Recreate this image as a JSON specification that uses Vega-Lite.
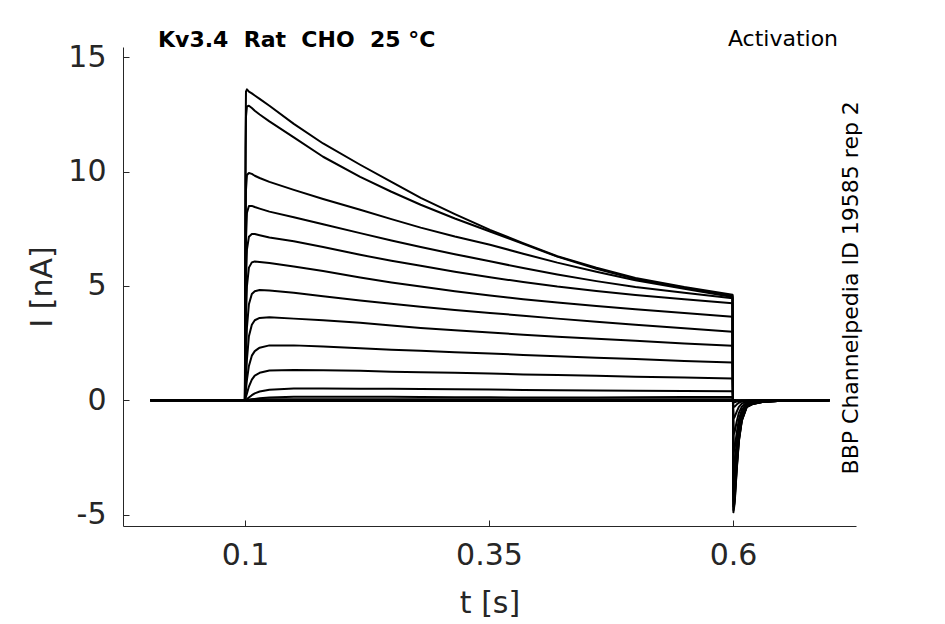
{
  "$schema": "https://vega.github.io/schema/vega-lite/v6.json",
  "autosize": "none",
  "width": 733,
  "height": 479,
  "padding": {"left": 123, "top": 47, "right": 89, "bottom": 98},
  "background": "white",
  "config": {
    "view": {"stroke": null},
    "font": "DejaVu Sans",
    "axis": {
      "grid": false,
      "domainColor": "#262626",
      "tickColor": "#262626",
      "labelColor": "#262626",
      "titleColor": "#262626",
      "labelFont": "DejaVu Sans",
      "titleFont": "DejaVu Sans",
      "labelFontSize": 30,
      "titleFontSize": 30,
      "titleFontWeight": "normal",
      "tickSize": -6,
      "domainWidth": 1,
      "tickWidth": 1
    }
  },
  "layer": [
    {
      "data": {"values": [
        {"trace":1,"t":0.003,"I":0},{"trace":1,"t":0.0999,"I":0},{"trace":1,"t":0.1005,"I":11.0},{"trace":1,"t":0.101,"I":13.5},{"trace":1,"t":0.102,"I":13.6},{"trace":1,"t":0.104,"I":13.5},{"trace":1,"t":0.107,"I":13.42},{"trace":1,"t":0.11,"I":13.33},{"trace":1,"t":0.115,"I":13.18},{"trace":1,"t":0.125,"I":12.88},{"trace":1,"t":0.15,"I":12.09},{"trace":1,"t":0.18,"I":11.23},{"trace":1,"t":0.218,"I":10.3},{"trace":1,"t":0.25,"I":9.55},{"trace":1,"t":0.28,"I":8.85},{"trace":1,"t":0.315,"I":8.14},{"trace":1,"t":0.351,"I":7.45},{"trace":1,"t":0.385,"I":6.87},{"trace":1,"t":0.42,"I":6.3},{"trace":1,"t":0.46,"I":5.8},{"trace":1,"t":0.5,"I":5.35},{"trace":1,"t":0.55,"I":4.95},{"trace":1,"t":0.5995,"I":4.62},
        {"trace":1,"t":0.6004,"I":-4.9},{"trace":1,"t":0.6017,"I":-4.5},{"trace":1,"t":0.6037,"I":-3.1},{"trace":1,"t":0.606,"I":-1.8},{"trace":1,"t":0.609,"I":-0.9},{"trace":1,"t":0.614,"I":-0.3},{"trace":1,"t":0.62,"I":-0.17},{"trace":1,"t":0.63,"I":-0.08},{"trace":1,"t":0.65,"I":-0.02},{"trace":1,"t":0.699,"I":0},

        {"trace":2,"t":0.003,"I":0},{"trace":2,"t":0.0999,"I":0},{"trace":2,"t":0.1005,"I":9.5},{"trace":2,"t":0.101,"I":12.4},{"trace":2,"t":0.102,"I":12.85},{"trace":2,"t":0.104,"I":12.88},{"trace":2,"t":0.107,"I":12.78},{"trace":2,"t":0.11,"I":12.66},{"trace":2,"t":0.115,"I":12.5},{"trace":2,"t":0.125,"I":12.2},{"trace":2,"t":0.15,"I":11.5},{"trace":2,"t":0.18,"I":10.65},{"trace":2,"t":0.218,"I":9.77},{"trace":2,"t":0.25,"I":9.12},{"trace":2,"t":0.28,"I":8.55},{"trace":2,"t":0.315,"I":7.95},{"trace":2,"t":0.351,"I":7.38},{"trace":2,"t":0.385,"I":6.84},{"trace":2,"t":0.42,"I":6.28},{"trace":2,"t":0.46,"I":5.75},{"trace":2,"t":0.5,"I":5.3},{"trace":2,"t":0.55,"I":4.92},{"trace":2,"t":0.5995,"I":4.57},
        {"trace":2,"t":0.6004,"I":-4.8},{"trace":2,"t":0.6017,"I":-4.4},{"trace":2,"t":0.6037,"I":-3.04},{"trace":2,"t":0.606,"I":-1.76},{"trace":2,"t":0.609,"I":-0.88},{"trace":2,"t":0.614,"I":-0.29},{"trace":2,"t":0.62,"I":-0.17},{"trace":2,"t":0.63,"I":-0.08},{"trace":2,"t":0.65,"I":-0.02},{"trace":2,"t":0.699,"I":0},

        {"trace":3,"t":0.003,"I":0},{"trace":3,"t":0.0999,"I":0},{"trace":3,"t":0.1005,"I":6.5},{"trace":3,"t":0.101,"I":9.2},{"trace":3,"t":0.102,"I":9.85},{"trace":3,"t":0.104,"I":9.94},{"trace":3,"t":0.107,"I":9.9},{"trace":3,"t":0.11,"I":9.82},{"trace":3,"t":0.115,"I":9.72},{"trace":3,"t":0.125,"I":9.55},{"trace":3,"t":0.15,"I":9.2},{"trace":3,"t":0.18,"I":8.8},{"trace":3,"t":0.218,"I":8.33},{"trace":3,"t":0.25,"I":7.92},{"trace":3,"t":0.28,"I":7.55},{"trace":3,"t":0.315,"I":7.16},{"trace":3,"t":0.351,"I":6.8},{"trace":3,"t":0.385,"I":6.41},{"trace":3,"t":0.42,"I":6.02},{"trace":3,"t":0.46,"I":5.62},{"trace":3,"t":0.5,"I":5.25},{"trace":3,"t":0.55,"I":4.88},{"trace":3,"t":0.5995,"I":4.52},
        {"trace":3,"t":0.6004,"I":-4.65},{"trace":3,"t":0.6017,"I":-4.27},{"trace":3,"t":0.6037,"I":-2.95},{"trace":3,"t":0.606,"I":-1.71},{"trace":3,"t":0.609,"I":-0.86},{"trace":3,"t":0.614,"I":-0.29},{"trace":3,"t":0.62,"I":-0.16},{"trace":3,"t":0.63,"I":-0.08},{"trace":3,"t":0.65,"I":-0.02},{"trace":3,"t":0.699,"I":0},

        {"trace":4,"t":0.003,"I":0},{"trace":4,"t":0.0999,"I":0},{"trace":4,"t":0.1005,"I":4.5},{"trace":4,"t":0.101,"I":7.0},{"trace":4,"t":0.102,"I":8.2},{"trace":4,"t":0.104,"I":8.5},{"trace":4,"t":0.107,"I":8.5},{"trace":4,"t":0.11,"I":8.45},{"trace":4,"t":0.115,"I":8.38},{"trace":4,"t":0.125,"I":8.25},{"trace":4,"t":0.15,"I":8.0},{"trace":4,"t":0.18,"I":7.7},{"trace":4,"t":0.218,"I":7.31},{"trace":4,"t":0.25,"I":6.99},{"trace":4,"t":0.28,"I":6.7},{"trace":4,"t":0.315,"I":6.39},{"trace":4,"t":0.351,"I":6.08},{"trace":4,"t":0.385,"I":5.78},{"trace":4,"t":0.42,"I":5.5},{"trace":4,"t":0.46,"I":5.21},{"trace":4,"t":0.5,"I":4.95},{"trace":4,"t":0.55,"I":4.7},{"trace":4,"t":0.5995,"I":4.46},
        {"trace":4,"t":0.6004,"I":-4.4},{"trace":4,"t":0.6017,"I":-4.05},{"trace":4,"t":0.6037,"I":-2.79},{"trace":4,"t":0.606,"I":-1.62},{"trace":4,"t":0.609,"I":-0.81},{"trace":4,"t":0.614,"I":-0.27},{"trace":4,"t":0.62,"I":-0.15},{"trace":4,"t":0.63,"I":-0.07},{"trace":4,"t":0.65,"I":-0.02},{"trace":4,"t":0.699,"I":0},

        {"trace":5,"t":0.003,"I":0},{"trace":5,"t":0.0999,"I":0},{"trace":5,"t":0.1005,"I":3.0},{"trace":5,"t":0.101,"I":5.2},{"trace":5,"t":0.102,"I":6.6},{"trace":5,"t":0.104,"I":7.15},{"trace":5,"t":0.107,"I":7.27},{"trace":5,"t":0.11,"I":7.27},{"trace":5,"t":0.115,"I":7.22},{"trace":5,"t":0.125,"I":7.12},{"trace":5,"t":0.15,"I":6.95},{"trace":5,"t":0.18,"I":6.7},{"trace":5,"t":0.218,"I":6.36},{"trace":5,"t":0.25,"I":6.1},{"trace":5,"t":0.28,"I":5.88},{"trace":5,"t":0.315,"I":5.62},{"trace":5,"t":0.351,"I":5.38},{"trace":5,"t":0.385,"I":5.17},{"trace":5,"t":0.42,"I":4.97},{"trace":5,"t":0.46,"I":4.78},{"trace":5,"t":0.5,"I":4.6},{"trace":5,"t":0.55,"I":4.42},{"trace":5,"t":0.5995,"I":4.24},
        {"trace":5,"t":0.6004,"I":-4.1},{"trace":5,"t":0.6017,"I":-3.77},{"trace":5,"t":0.6037,"I":-2.6},{"trace":5,"t":0.606,"I":-1.51},{"trace":5,"t":0.609,"I":-0.75},{"trace":5,"t":0.614,"I":-0.25},{"trace":5,"t":0.62,"I":-0.14},{"trace":5,"t":0.63,"I":-0.07},{"trace":5,"t":0.65,"I":-0.02},{"trace":5,"t":0.699,"I":0},

        {"trace":6,"t":0.003,"I":0},{"trace":6,"t":0.0999,"I":0},{"trace":6,"t":0.1005,"I":1.9},{"trace":6,"t":0.101,"I":3.6},{"trace":6,"t":0.102,"I":5.0},{"trace":6,"t":0.104,"I":5.8},{"trace":6,"t":0.107,"I":6.03},{"trace":6,"t":0.11,"I":6.07},{"trace":6,"t":0.115,"I":6.05},{"trace":6,"t":0.125,"I":6.0},{"trace":6,"t":0.15,"I":5.85},{"trace":6,"t":0.18,"I":5.65},{"trace":6,"t":0.218,"I":5.37},{"trace":6,"t":0.25,"I":5.15},{"trace":6,"t":0.28,"I":4.97},{"trace":6,"t":0.315,"I":4.77},{"trace":6,"t":0.351,"I":4.58},{"trace":6,"t":0.385,"I":4.42},{"trace":6,"t":0.42,"I":4.27},{"trace":6,"t":0.46,"I":4.12},{"trace":6,"t":0.5,"I":3.98},{"trace":6,"t":0.55,"I":3.82},{"trace":6,"t":0.5995,"I":3.65},
        {"trace":6,"t":0.6004,"I":-3.6},{"trace":6,"t":0.6017,"I":-3.31},{"trace":6,"t":0.6037,"I":-2.28},{"trace":6,"t":0.606,"I":-1.32},{"trace":6,"t":0.609,"I":-0.66},{"trace":6,"t":0.614,"I":-0.22},{"trace":6,"t":0.62,"I":-0.12},{"trace":6,"t":0.63,"I":-0.06},{"trace":6,"t":0.65,"I":-0.01},{"trace":6,"t":0.699,"I":0},

        {"trace":7,"t":0.003,"I":0},{"trace":7,"t":0.0999,"I":0},{"trace":7,"t":0.1005,"I":1.0},{"trace":7,"t":0.101,"I":2.0},{"trace":7,"t":0.102,"I":3.2},{"trace":7,"t":0.104,"I":4.2},{"trace":7,"t":0.107,"I":4.65},{"trace":7,"t":0.11,"I":4.77},{"trace":7,"t":0.115,"I":4.82},{"trace":7,"t":0.125,"I":4.8},{"trace":7,"t":0.15,"I":4.7},{"trace":7,"t":0.18,"I":4.55},{"trace":7,"t":0.218,"I":4.36},{"trace":7,"t":0.25,"I":4.22},{"trace":7,"t":0.28,"I":4.09},{"trace":7,"t":0.315,"I":3.95},{"trace":7,"t":0.351,"I":3.82},{"trace":7,"t":0.385,"I":3.7},{"trace":7,"t":0.42,"I":3.57},{"trace":7,"t":0.46,"I":3.43},{"trace":7,"t":0.5,"I":3.3},{"trace":7,"t":0.55,"I":3.15},{"trace":7,"t":0.5995,"I":3.0},
        {"trace":7,"t":0.6004,"I":-3.0},{"trace":7,"t":0.6017,"I":-2.76},{"trace":7,"t":0.6037,"I":-1.9},{"trace":7,"t":0.606,"I":-1.1},{"trace":7,"t":0.609,"I":-0.55},{"trace":7,"t":0.614,"I":-0.18},{"trace":7,"t":0.62,"I":-0.1},{"trace":7,"t":0.63,"I":-0.05},{"trace":7,"t":0.65,"I":-0.01},{"trace":7,"t":0.699,"I":0},

        {"trace":8,"t":0.003,"I":0},{"trace":8,"t":0.0999,"I":0},{"trace":8,"t":0.1005,"I":0.5},{"trace":8,"t":0.101,"I":1.0},{"trace":8,"t":0.102,"I":1.8},{"trace":8,"t":0.104,"I":2.8},{"trace":8,"t":0.107,"I":3.3},{"trace":8,"t":0.11,"I":3.5},{"trace":8,"t":0.115,"I":3.6},{"trace":8,"t":0.125,"I":3.63},{"trace":8,"t":0.15,"I":3.57},{"trace":8,"t":0.18,"I":3.5},{"trace":8,"t":0.218,"I":3.39},{"trace":8,"t":0.25,"I":3.27},{"trace":8,"t":0.28,"I":3.16},{"trace":8,"t":0.315,"I":3.06},{"trace":8,"t":0.351,"I":2.96},{"trace":8,"t":0.385,"I":2.87},{"trace":8,"t":0.42,"I":2.78},{"trace":8,"t":0.46,"I":2.69},{"trace":8,"t":0.5,"I":2.6},{"trace":8,"t":0.55,"I":2.48},{"trace":8,"t":0.5995,"I":2.38},
        {"trace":8,"t":0.6004,"I":-2.3},{"trace":8,"t":0.6017,"I":-2.11},{"trace":8,"t":0.6037,"I":-1.45},{"trace":8,"t":0.606,"I":-0.84},{"trace":8,"t":0.609,"I":-0.42},{"trace":8,"t":0.614,"I":-0.14},{"trace":8,"t":0.62,"I":-0.08},{"trace":8,"t":0.63,"I":-0.04},{"trace":8,"t":0.65,"I":-0.01},{"trace":8,"t":0.699,"I":0},

        {"trace":9,"t":0.003,"I":0},{"trace":9,"t":0.0999,"I":0},{"trace":9,"t":0.1005,"I":0.25},{"trace":9,"t":0.101,"I":0.5},{"trace":9,"t":0.102,"I":0.9},{"trace":9,"t":0.104,"I":1.5},{"trace":9,"t":0.107,"I":1.95},{"trace":9,"t":0.11,"I":2.15},{"trace":9,"t":0.115,"I":2.3},{"trace":9,"t":0.125,"I":2.4},{"trace":9,"t":0.15,"I":2.4},{"trace":9,"t":0.18,"I":2.35},{"trace":9,"t":0.218,"I":2.27},{"trace":9,"t":0.25,"I":2.21},{"trace":9,"t":0.28,"I":2.16},{"trace":9,"t":0.315,"I":2.1},{"trace":9,"t":0.351,"I":2.05},{"trace":9,"t":0.385,"I":1.98},{"trace":9,"t":0.42,"I":1.92},{"trace":9,"t":0.46,"I":1.86},{"trace":9,"t":0.5,"I":1.8},{"trace":9,"t":0.55,"I":1.72},{"trace":9,"t":0.5995,"I":1.65},
        {"trace":9,"t":0.6004,"I":-1.5},{"trace":9,"t":0.6017,"I":-1.38},{"trace":9,"t":0.6037,"I":-0.95},{"trace":9,"t":0.606,"I":-0.55},{"trace":9,"t":0.609,"I":-0.28},{"trace":9,"t":0.614,"I":-0.09},{"trace":9,"t":0.62,"I":-0.05},{"trace":9,"t":0.63,"I":-0.02},{"trace":9,"t":0.65,"I":0},{"trace":9,"t":0.699,"I":0},

        {"trace":10,"t":0.003,"I":0},{"trace":10,"t":0.0999,"I":0},{"trace":10,"t":0.1005,"I":0.07},{"trace":10,"t":0.101,"I":0.15},{"trace":10,"t":0.102,"I":0.3},{"trace":10,"t":0.104,"I":0.6},{"trace":10,"t":0.107,"I":0.9},{"trace":10,"t":0.11,"I":1.08},{"trace":10,"t":0.115,"I":1.2},{"trace":10,"t":0.125,"I":1.3},{"trace":10,"t":0.15,"I":1.32},{"trace":10,"t":0.18,"I":1.31},{"trace":10,"t":0.218,"I":1.29},{"trace":10,"t":0.25,"I":1.25},{"trace":10,"t":0.28,"I":1.22},{"trace":10,"t":0.315,"I":1.2},{"trace":10,"t":0.351,"I":1.17},{"trace":10,"t":0.385,"I":1.13},{"trace":10,"t":0.42,"I":1.1},{"trace":10,"t":0.46,"I":1.07},{"trace":10,"t":0.5,"I":1.03},{"trace":10,"t":0.55,"I":0.99},{"trace":10,"t":0.5995,"I":0.95},
        {"trace":10,"t":0.6004,"I":-0.8},{"trace":10,"t":0.6017,"I":-0.73},{"trace":10,"t":0.6037,"I":-0.51},{"trace":10,"t":0.606,"I":-0.29},{"trace":10,"t":0.609,"I":-0.15},{"trace":10,"t":0.614,"I":-0.05},{"trace":10,"t":0.62,"I":-0.03},{"trace":10,"t":0.63,"I":-0.01},{"trace":10,"t":0.65,"I":0},{"trace":10,"t":0.699,"I":0},

        {"trace":11,"t":0.003,"I":0},{"trace":11,"t":0.0999,"I":0},{"trace":11,"t":0.1005,"I":0.02},{"trace":11,"t":0.101,"I":0.03},{"trace":11,"t":0.102,"I":0.05},{"trace":11,"t":0.104,"I":0.12},{"trace":11,"t":0.107,"I":0.22},{"trace":11,"t":0.11,"I":0.3},{"trace":11,"t":0.115,"I":0.38},{"trace":11,"t":0.125,"I":0.46},{"trace":11,"t":0.15,"I":0.51},{"trace":11,"t":0.18,"I":0.51},{"trace":11,"t":0.218,"I":0.5},{"trace":11,"t":0.25,"I":0.5},{"trace":11,"t":0.28,"I":0.49},{"trace":11,"t":0.315,"I":0.48},{"trace":11,"t":0.351,"I":0.47},{"trace":11,"t":0.385,"I":0.45},{"trace":11,"t":0.42,"I":0.44},{"trace":11,"t":0.46,"I":0.43},{"trace":11,"t":0.5,"I":0.42},{"trace":11,"t":0.55,"I":0.4},{"trace":11,"t":0.5995,"I":0.39},
        {"trace":11,"t":0.6004,"I":-0.3},{"trace":11,"t":0.6017,"I":-0.28},{"trace":11,"t":0.6037,"I":-0.19},{"trace":11,"t":0.606,"I":-0.11},{"trace":11,"t":0.609,"I":-0.06},{"trace":11,"t":0.614,"I":-0.02},{"trace":11,"t":0.62,"I":-0.01},{"trace":11,"t":0.63,"I":0},{"trace":11,"t":0.65,"I":0},{"trace":11,"t":0.699,"I":0},

        {"trace":12,"t":0.003,"I":0},{"trace":12,"t":0.0999,"I":0},{"trace":12,"t":0.1005,"I":0},{"trace":12,"t":0.101,"I":0.01},{"trace":12,"t":0.102,"I":0.01},{"trace":12,"t":0.104,"I":0.02},{"trace":12,"t":0.107,"I":0.04},{"trace":12,"t":0.11,"I":0.06},{"trace":12,"t":0.115,"I":0.09},{"trace":12,"t":0.125,"I":0.12},{"trace":12,"t":0.15,"I":0.15},{"trace":12,"t":0.18,"I":0.15},{"trace":12,"t":0.218,"I":0.15},{"trace":12,"t":0.25,"I":0.15},{"trace":12,"t":0.28,"I":0.14},{"trace":12,"t":0.315,"I":0.13},{"trace":12,"t":0.351,"I":0.13},{"trace":12,"t":0.385,"I":0.12},{"trace":12,"t":0.42,"I":0.12},{"trace":12,"t":0.46,"I":0.12},{"trace":12,"t":0.5,"I":0.13},{"trace":12,"t":0.55,"I":0.14},{"trace":12,"t":0.5995,"I":0.14},
        {"trace":12,"t":0.6004,"I":-0.1},{"trace":12,"t":0.6017,"I":-0.09},{"trace":12,"t":0.6037,"I":-0.06},{"trace":12,"t":0.606,"I":-0.04},{"trace":12,"t":0.609,"I":-0.02},{"trace":12,"t":0.614,"I":-0.01},{"trace":12,"t":0.62,"I":0},{"trace":12,"t":0.63,"I":0},{"trace":12,"t":0.65,"I":0},{"trace":12,"t":0.699,"I":0},

        {"trace":13,"t":0.003,"I":0},{"trace":13,"t":0.0999,"I":0},{"trace":13,"t":0.11,"I":0.04},{"trace":13,"t":0.5995,"I":0.04},{"trace":13,"t":0.6004,"I":-0.04},{"trace":13,"t":0.609,"I":-0.01},{"trace":13,"t":0.63,"I":0},{"trace":13,"t":0.699,"I":0},

        {"trace":14,"t":0.003,"I":0},{"trace":14,"t":0.0999,"I":0},{"trace":14,"t":0.1005,"I":-0.03},{"trace":14,"t":0.5995,"I":-0.03},{"trace":14,"t":0.6004,"I":0.01},{"trace":14,"t":0.62,"I":0},{"trace":14,"t":0.699,"I":0}
      ]},
      "mark": {"type": "line", "color": "black", "strokeWidth": 2, "strokeJoin": "round", "clip": false},
      "encoding": {
        "x": {
          "field": "t", "type": "quantitative", "title": "t [s]",
          "scale": {"domain": [-0.025, 0.726], "nice": false, "zero": false},
          "axis": {"values": [0.1, 0.35, 0.6], "format": ".2~f", "labelPadding": 20, "titlePadding": 18}
        },
        "y": {
          "field": "I", "type": "quantitative", "title": "I [nA]",
          "scale": {"domain": [-5.5, 15.45], "nice": false, "zero": false},
          "axis": {"values": [-5, 0, 5, 10, 15], "labelPadding": 23, "titlePadding": 10, "labelExpr": "replace(datum.label, '\u2212', '-')"}
        },
        "detail": {"field": "trace", "type": "nominal"}
      }
    },
    {
      "data": {"values": [{}]},
      "mark": {"type": "text", "text": "Kv3.4\u00a0\u00a0Rat\u00a0\u00a0CHO\u00a0\u00a025\u00a0°C", "font": "DejaVu Sans", "fontSize": 22, "fontWeight": "bold", "align": "left", "baseline": "alphabetic", "color": "black", "clip": false},
      "encoding": {"x": {"datum": 0.0109, "type": "quantitative"}, "y": {"datum": 15.43, "type": "quantitative"}}
    },
    {
      "data": {"values": [{}]},
      "mark": {"type": "text", "text": "Activation", "font": "DejaVu Sans", "fontSize": 22, "align": "right", "baseline": "alphabetic", "color": "black", "clip": false},
      "encoding": {"x": {"datum": 0.7076, "type": "quantitative"}, "y": {"datum": 15.48, "type": "quantitative"}}
    },
    {
      "data": {"values": [{}]},
      "mark": {"type": "text", "text": "BBP Channelpedia ID 19585 rep 2", "font": "DejaVu Sans", "fontSize": 22, "angle": 270, "align": "center", "baseline": "alphabetic", "color": "black", "clip": false},
      "encoding": {"x": {"datum": 0.728, "type": "quantitative"}, "y": {"datum": 4.92, "type": "quantitative"}}
    }
  ]
}
